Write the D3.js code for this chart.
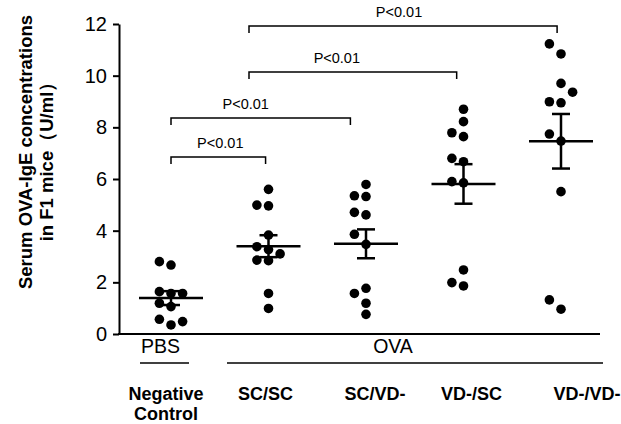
<!DOCTYPE html>
<html>
<head>
<meta charset="utf-8">
<script src="https://cdn.jsdelivr.net/npm/d3@7"></script>
<style>
  body { margin: 0; background: #fff; }
  svg { display: block; font-family: "Liberation Sans", Arial, sans-serif; }
</style>
</head>
<body>
<svg id="chart" width="621" height="424"></svg>
<script>
// groups and IgE values (U/ml)
const groups = ["Negative Control", "SC/SC", "SC/VD-", "VD-/SC", "VD-/VD-"];
const negControl = [2.67, 1.57, 1.06, 0.35, 2.80, 1.64, 1.19, 0.57, 1.57, 0.48];
const scSc = [5.60, 4.96, 3.83, 3.27, 2.84, 1.57, 0.99, 4.99, 3.38, 3.10, 2.86];
const scVd = [5.79, 5.32, 4.61, 3.47, 1.77, 1.19, 0.76, 5.35, 3.86, 4.71, 1.57];
const vdSc = [8.70, 8.22, 7.64, 6.67, 5.85, 2.48, 1.86, 6.80, 7.79, 5.90, 1.99];
const vdVd = [10.84, 9.70, 8.95, 7.47, 5.51, 0.96, 11.23, 8.99, 9.36, 7.74, 1.32];
const yTicks = [0, 2, 4, 6, 8, 10, 12];
const compFrom = [0, 0, 0.8, 0.8];
const compTo = [0.97, 1.84, 2.93, 3.96];
const compLevel = [6.85, 8.36, 10.14, 11.92];
const compLabel = "P<0.01";

const series = [negControl, scSc, scVd, vdSc, vdVd];

const svg = d3.select("#chart");
const axisX = 119, axisRight = 600;

const y = d3.scaleLinear().domain([0, 12]).range([334, 24]);
const x = d3.scalePoint().domain(groups).range([171, 561]);
const xi = d3.scaleLinear().domain([0, groups.length - 1]).range(x.range());

// y axis
const yAxis = svg.append("g")
  .attr("transform", "translate(" + axisX + ",0)")
  .call(d3.axisLeft(y).tickValues(yTicks).tickSize(6).tickSizeOuter(0).tickPadding(6));
yAxis.select(".domain").attr("stroke", "#000").attr("stroke-width", 2);
yAxis.selectAll(".tick line").attr("stroke", "#000").attr("stroke-width", 2);
yAxis.selectAll(".tick text")
  .attr("font-size", 20)
  .attr("font-family", "Liberation Sans, Arial, sans-serif")
  .attr("fill", "#000");

// x axis baseline
svg.append("line")
  .attr("x1", axisX - 1).attr("x2", axisRight)
  .attr("y1", y(0)).attr("y2", y(0))
  .attr("stroke", "#000").attr("stroke-width", 2);

// y title
const title = svg.append("g")
  .attr("font-weight", "bold")
  .attr("font-size", 18.5)
  .attr("text-anchor", "middle");
title.append("text")
  .attr("transform", "translate(26,152) rotate(-90)")
  .attr("dy", "0.35em")
  .text("Serum OVA-IgE concentrations");
title.append("text")
  .attr("transform", "translate(47,157) rotate(-90)")
  .attr("dy", "0.35em")
  .text("in F1 mice（U/ml）");

// dot layout: simple dodge into columns
const r = 4.8, colStep = 11.6, minGap = 10.5;
function dodge(values) {
  const placed = [];
  return values.map(v => {
    const py = y(v);
    const slot = [0, -1, 1, -2, 2].find(s =>
      !placed.some(p => p.slot === s && Math.abs(p.py - py) < minGap));
    placed.push({ slot, py });
    return { value: v, slot };
  });
}

const groupG = svg.selectAll("g.group")
  .data(series.map((vals, i) => ({ name: groups[i], vals })))
  .enter()
  .append("g")
  .attr("class", "group")
  .attr("transform", d => "translate(" + x(d.name) + ",0)");

groupG.selectAll("circle")
  .data(d => dodge(d.vals))
  .enter()
  .append("circle")
  .attr("cx", d => d.slot * colStep)
  .attr("cy", d => y(d.value))
  .attr("r", r)
  .attr("fill", "#000");

// mean +/- SEM
groupG.each(function (d) {
  const g = d3.select(this);
  const m = d3.mean(d.vals);
  const sem = d3.deviation(d.vals) / Math.sqrt(d.vals.length);
  g.append("line")
    .attr("x1", -32).attr("x2", 32)
    .attr("y1", y(m)).attr("y2", y(m))
    .attr("stroke", "#000").attr("stroke-width", 2.5);
  g.append("line")
    .attr("x1", 0).attr("x2", 0)
    .attr("y1", y(m + sem)).attr("y2", y(m - sem))
    .attr("stroke", "#000").attr("stroke-width", 2.5);
  [m + sem, m - sem].forEach(v => {
    g.append("line")
      .attr("x1", -9).attr("x2", 9)
      .attr("y1", y(v)).attr("y2", y(v))
      .attr("stroke", "#000").attr("stroke-width", 2.5);
  });
});

// significance brackets (labels sit a little left of centre, as in the figure)
const labelNudge = [2, -15, -16, -4];
compLevel.forEach((lvl, i) => {
  const x1 = xi(compFrom[i]), x2 = xi(compTo[i]), yy = y(lvl);
  svg.append("path")
    .attr("d", "M" + x1 + "," + (yy + 7) + "V" + yy + "H" + x2 + "V" + (yy + 7))
    .attr("fill", "none")
    .attr("stroke", "#000")
    .attr("stroke-width", 1.5);
  svg.append("text")
    .attr("x", (x1 + x2) / 2 + labelNudge[i])
    .attr("y", yy - 9)
    .attr("text-anchor", "middle")
    .attr("font-size", 14.5)
    .text(compLabel);
});

// treatment labels
svg.append("text").attr("x", 141).attr("y", 353).attr("font-size", 19.5).text("PBS");
svg.append("line").attr("x1", 140).attr("x2", 189).attr("y1", 363).attr("y2", 363)
  .attr("stroke", "#000").attr("stroke-width", 1.5);
svg.append("text").attr("x", 393).attr("y", 353).attr("text-anchor", "middle")
  .attr("font-size", 19.5).text("OVA");
svg.append("line").attr("x1", 227).attr("x2", 603).attr("y1", 363).attr("y2", 363)
  .attr("stroke", "#000").attr("stroke-width", 1.5);

// group labels
const labelShift = [-5, -3, 9, 8, 26];
const labels = svg.append("g")
  .attr("font-weight", "bold")
  .attr("font-size", 18)
  .attr("text-anchor", "middle");
groups.forEach((gname, i) => {
  const t = labels.append("text")
    .attr("x", x(gname) + labelShift[i])
    .attr("y", 400);
  gname.split(" ").forEach((w, j) => {
    t.append("tspan")
      .attr("x", x(gname) + labelShift[i])
      .attr("dy", j === 0 ? 0 : 20)
      .text(w);
  });
});
</script>
</body>
</html>
